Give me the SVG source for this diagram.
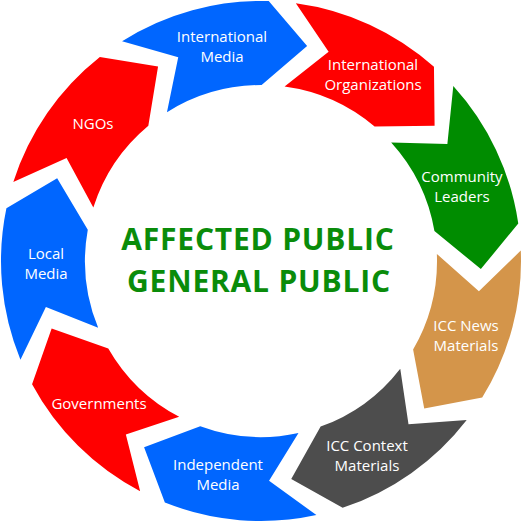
<svg xmlns="http://www.w3.org/2000/svg" xmlns:xlink="http://www.w3.org/1999/xlink" width="523" height="523" viewBox="0 0 523 523">
<style>
.lbl{font-family:"Open Sans","Liberation Sans",sans-serif;font-size:15px;fill:#ffffff;text-anchor:middle}
.ctr{font-family:"Open Sans","Liberation Sans",sans-serif;font-size:30px;font-weight:bold;letter-spacing:0.8px;fill:#0a8c0a;text-anchor:middle}
.blue{fill:#0066ff}.red{fill:#ff0000}.green{fill:#008c00}.tan{fill:#d4954a}.gray{fill:#4d4d4d}
</style>
<defs>
<path id="seg" d="M261,1 A260,260 0 0 1 406.39,45.45 L414.93,103.82 L355.56,112.56 A176,176 0 0 0 261,85 L299.96,44.48 Z"/>
</defs>
<rect width="523" height="523" fill="#ffffff"/>
<g id="connectors"></g>
<g id="intl-media"><use xlink:href="#seg" class="blue" transform="rotate(-32.3 261 261)"/><text class="lbl" x="222" y="42">International</text><text class="lbl" x="222" y="62">Media</text></g>
<g id="intl-orgs"><use xlink:href="#seg" class="red" transform="rotate(7.7 261 261)"/><text class="lbl" x="373" y="70">International</text><text class="lbl" x="373" y="90">Organizations</text></g>
<g id="community"><use xlink:href="#seg" class="green" transform="rotate(47.7 261 261)"/><text class="lbl" x="462" y="182">Community</text><text class="lbl" x="462" y="202">Leaders</text></g>
<g id="icc-news"><use xlink:href="#seg" class="tan" transform="rotate(87.7 261 261)"/><text class="lbl" x="466" y="331">ICC News</text><text class="lbl" x="466" y="351">Materials</text></g>
<g id="icc-context"><use xlink:href="#seg" class="gray" transform="rotate(127.7 261 261)"/><text class="lbl" x="367" y="451">ICC Context</text><text class="lbl" x="367" y="471">Materials</text></g>
<g id="independent"><use xlink:href="#seg" class="blue" transform="rotate(167.7 261 261)"/><text class="lbl" x="218" y="470">Independent</text><text class="lbl" x="218" y="490">Media</text></g>
<g id="governments"><use xlink:href="#seg" class="red" transform="rotate(207.7 261 261)"/><text class="lbl" x="99" y="409">Governments</text></g>
<g id="local-media"><use xlink:href="#seg" class="blue" transform="rotate(247.7 261 261)"/><text class="lbl" x="46" y="259">Local</text><text class="lbl" x="46" y="279">Media</text></g>
<g id="ngos"><use xlink:href="#seg" class="red" transform="rotate(287.7 261 261)"/><text class="lbl" x="93" y="129">NGOs</text></g>
<g id="center"><text class="ctr" x="258" y="250">AFFECTED PUBLIC</text><text class="ctr" x="259" y="292">GENERAL PUBLIC</text></g>
</svg>
